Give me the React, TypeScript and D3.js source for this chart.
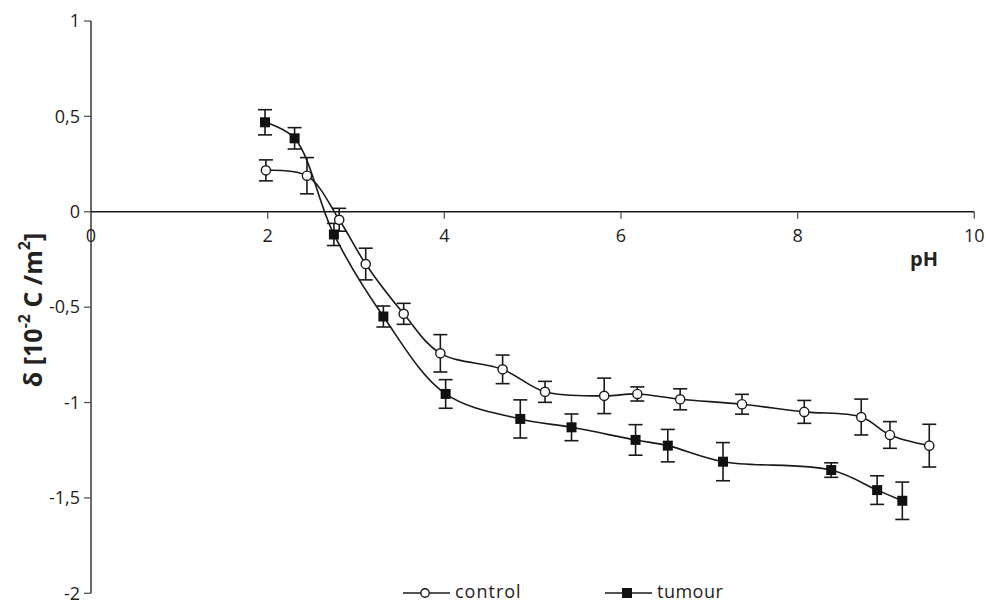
import React from "react";
import * as d3 from "d3";

const controlPH = [1.98, 2.445, 2.81, 3.11, 3.54, 3.955, 4.66, 5.14, 5.81, 6.185, 6.67, 7.37, 8.075, 8.72, 9.045, 9.49];
const controlDelta = [0.217, 0.189, -0.042, -0.274, -0.535, -0.742, -0.826, -0.944, -0.965, -0.955, -0.983, -1.009, -1.049, -1.076, -1.17, -1.226];
const controlErr = [0.055, 0.095, 0.06, 0.083, 0.055, 0.098, 0.075, 0.055, 0.093, 0.037, 0.055, 0.052, 0.06, 0.094, 0.07, 0.112];

const tumourPH = [1.97, 2.305, 2.75, 3.31, 4.015, 4.86, 5.44, 6.165, 6.53, 7.155, 8.38, 8.9, 9.185];
const tumourDelta = [0.469, 0.385, -0.119, -0.549, -0.955, -1.086, -1.13, -1.196, -1.226, -1.31, -1.354, -1.459, -1.515];
const tumourErr = [0.066, 0.056, 0.058, 0.055, 0.075, 0.1, 0.07, 0.08, 0.085, 0.1, 0.038, 0.075, 0.098];

const xTicks = [0, 2, 4, 6, 8, 10];
const yTicks = [1, 0.5, 0, -0.5, -1, -1.5, -2];
const yTickLabels = ["1", "0,5", "0", "-0,5", "-1", "-1,5", "-2"];

const W = 986;
const H = 602;
const FONT = "'Open Sans', 'Noto Sans', sans-serif";
const INK = "#1a1a1a";

export default function App() {
  const x = d3.scaleLinear().domain([0, 10]).range([91, 974.3]);
  const y = d3.scaleLinear().domain([-2, 1]).range([593.3, 21]);

  const control = controlPH.map((p, i) => ({ x: p, y: controlDelta[i], e: controlErr[i] }));
  const tumour = tumourPH.map((p, i) => ({ x: p, y: tumourDelta[i], e: tumourErr[i] }));

  const line = d3
    .line<{ x: number; y: number }>()
    .x((d) => x(d.x))
    .y((d) => y(d.y))
    .curve(d3.curveCatmullRom.alpha(0.5));

  const errBars = (data: { x: number; y: number; e: number }[], key: string) =>
    data.map((d, i) => {
      const cx = x(d.x);
      const t = y(d.y + d.e);
      const b = y(d.y - d.e);
      return (
        <g key={key + i} stroke={INK} strokeWidth={1.6}>
          <line x1={cx} x2={cx} y1={t} y2={b} />
          <line x1={cx - 7} x2={cx + 7} y1={t} y2={t} />
          <line x1={cx - 7} x2={cx + 7} y1={b} y2={b} />
        </g>
      );
    });

  return (
    <div style={{ position: "absolute", left: 0, top: 0 }}>
      <svg width={W} height={H} style={{ display: "block", background: "#fff" }}>
        <rect width={W} height={H} fill="#fff" />
        {/* axes */}
        <line x1={x(0)} x2={x(0)} y1={y(1)} y2={y(-2)} stroke={INK} strokeWidth={1.3} />
        <line x1={x(0)} x2={x(10)} y1={y(0)} y2={y(0)} stroke={INK} strokeWidth={1.3} />
        {yTicks.map((t, i) => (
          <g key={"yt" + i}>
            <line x1={x(0) - 7} x2={x(0)} y1={y(t)} y2={y(t)} stroke="#555" strokeWidth={1.3} />
            <text
              x={x(0) - 11}
              y={y(t)}
              dy="0.35em"
              textAnchor="end"
              fontFamily={FONT}
              fontSize={18}
              fill="#222"
            >
              {yTickLabels[i]}
            </text>
          </g>
        ))}
        {xTicks.map((t, i) => (
          <g key={"xt" + i}>
            {t !== 0 && (
              <line x1={x(t)} x2={x(t)} y1={y(0)} y2={y(0) + 7} stroke="#555" strokeWidth={1.3} />
            )}
            <text x={x(t)} y={242} textAnchor="middle" fontFamily={FONT} fontSize={18} fill="#222">
              {t}
            </text>
          </g>
        ))}
        <text x={924} y={266} textAnchor="middle" fontFamily={FONT} fontSize={20} fontWeight="bold" fill="#222">
          pH
        </text>
        <text
          transform="translate(42,310) rotate(-90)"
          textAnchor="middle"
          fontFamily={FONT}
          fontSize={25}
          fontWeight="bold"
          fill="#222"
        >
          δ [10
          <tspan dy={-12} fontSize={16}>-2</tspan>
          <tspan dy={12}> C /m</tspan>
          <tspan dy={-12} fontSize={16}>2</tspan>
          <tspan dy={12}>]</tspan>
        </text>

        {/* lines */}
        <path d={line(control) || ""} fill="none" stroke={INK} strokeWidth={1.6} />
        <path d={line(tumour) || ""} fill="none" stroke={INK} strokeWidth={1.6} />

        {errBars(control, "ce")}
        {errBars(tumour, "te")}

        {control.map((d, i) => (
          <circle key={"c" + i} cx={x(d.x)} cy={y(d.y)} r={4.6} fill="#fff" stroke={INK} strokeWidth={1.4} />
        ))}
        {tumour.map((d, i) => (
          <rect key={"s" + i} x={x(d.x) - 5} y={y(d.y) - 5} width={10} height={10} fill="#111" />
        ))}

        {/* legend */}
        <g>
          <line x1={403} x2={450} y1={593} y2={593} stroke={INK} strokeWidth={1.6} />
          <circle cx={425} cy={593} r={4.2} fill="#fff" stroke={INK} strokeWidth={1.4} />
          <text x={455} y={598} fontFamily={FONT} fontSize={18} letterSpacing={1} fill="#222">control</text>
          <line x1={605} x2={652} y1={593} y2={593} stroke={INK} strokeWidth={1.6} />
          <rect x={622} y={588} width={10} height={10} fill="#111" />
          <text x={657} y={598} fontFamily={FONT} fontSize={18} letterSpacing={0.5} fill="#222">tumour</text>
        </g>
      </svg>
    </div>
  );
}
